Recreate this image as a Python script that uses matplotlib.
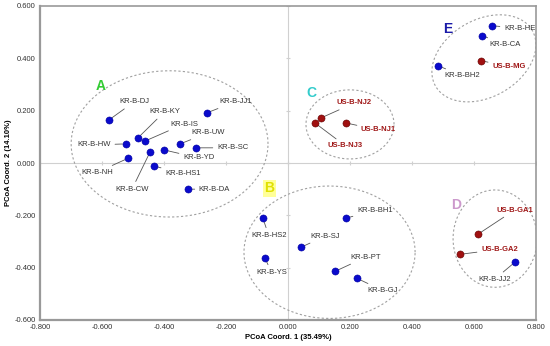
import numpy as np
import matplotlib
matplotlib.use("Agg")
import matplotlib.pyplot as plt

plt.rcParams['font.family'] = ['Liberation Sans', 'DejaVu Sans']

# ---- data ----
kr_names = ["KR-B-DJ", "KR-B-JJ1", "KR-B-KY", "KR-B-IS", "KR-B-HW", "KR-B-UW",
            "KR-B-SC", "KR-B-YD", "KR-B-CW", "KR-B-NH", "KR-B-HS1", "KR-B-DA",
            "KR-B-HS2", "KR-B-YS", "KR-B-SJ", "KR-B-BH1", "KR-B-PT", "KR-B-GJ",
            "KR-B-JJ2", "KR-B-HE", "KR-B-CA", "KR-B-BH2"]
kr_x = [-0.577, -0.261, -0.484, -0.461, -0.523, -0.348, -0.297, -0.400, -0.445,
        -0.516, -0.432, -0.323, -0.081, -0.074, 0.042, 0.187, 0.152, 0.223,
        0.732, 0.658, 0.626, 0.484]
kr_y = [0.165, 0.192, 0.096, 0.084, 0.073, 0.073, 0.058, 0.050, 0.042,
        0.018, -0.012, -0.100, -0.211, -0.364, -0.322, -0.211, -0.414, -0.441,
        -0.379, 0.525, 0.487, 0.372]

us_names = ["US-B-NJ2", "US-B-NJ3", "US-B-NJ1", "US-B-GA1", "US-B-GA2", "US-B-MG"]
us_x = [0.106, 0.087, 0.187, 0.613, 0.555, 0.623]
us_y = [0.172, 0.153, 0.153, -0.272, -0.349, 0.391]

x_ticks = [-0.8, -0.6, -0.4, -0.2, 0.0, 0.2, 0.4, 0.6, 0.8]
y_ticks = [-0.6, -0.4, -0.2, 0.0, 0.2, 0.4, 0.6]
x_label = "PCoA Coord. 1 (35.49%)"
y_label = "PCoA Coord. 2 (14.10%)"

# ---- layout (label offsets in pixels: dx, dy, ha) ----
label_layout = {
    "KR-B-DJ": (10, 18, 'left'), "KR-B-JJ1": (12, 11, 'left'),
    "KR-B-KY": (11, 26, 'left'), "KR-B-IS": (25, 17, 'left'),
    "KR-B-HW": (-15, -1, 'right'), "KR-B-UW": (11, 11, 'left'),
    "KR-B-SC": (21, 0, 'left'), "KR-B-YD": (19, -8, 'left'),
    "KR-B-CW": (-18, -37, 'center'), "KR-B-NH": (-15, -14, 'right'),
    "KR-B-HS1": (11, -7, 'left'), "KR-B-DA": (11, 0, 'left'),
    "KR-B-HS2": (-12, -17, 'left'), "KR-B-YS": (-9, -14, 'left'),
    "KR-B-SJ": (9, 11, 'left'), "KR-B-BH1": (11, 8, 'left'),
    "KR-B-PT": (15, 14, 'left'), "KR-B-GJ": (10, -12, 'left'),
    "KR-B-JJ2": (-4, -17, 'right'), "KR-B-HE": (12, -3, 'left'),
    "KR-B-CA": (7, -9, 'left'), "KR-B-BH2": (6, -10, 'left'),
    "US-B-NJ2": (16, 15, 'left'), "US-B-NJ3": (13, -23, 'left'),
    "US-B-NJ1": (15, -7, 'left'), "US-B-GA1": (18, 24, 'left'),
    "US-B-GA2": (21, 5, 'left'), "US-B-MG": (11, -6, 'left'),
}

# cluster ellipses: (cx, cy, width, height, angle_deg)
ellipses = [(-0.382, 0.073, 0.635, 0.559, 0),
            (0.134, -0.341, 0.552, 0.506, 0),
            (0.200, 0.1475, 0.284, 0.264, 0),
            (0.668, -0.289, 0.271, 0.372, 0),
            (0.632, 0.400, 0.360, 0.295, 30)]

groups = [("A", -0.605, 0.295, '#33cc33', None),
          ("B", -0.060, -0.097, '#e0e000', '#ffff99'),
          ("C", 0.075, 0.266, '#33cccc', None),
          ("D", 0.542, -0.161, '#cc99cc', None),
          ("E", 0.515, 0.513, '#1a1aa8', None)]

W, H, DPI = 550, 346, 100
fig = plt.figure(figsize=(W / DPI, H / DPI), dpi=DPI)
ax = fig.add_axes([40 / W, 1 - 320 / H, 496 / W, 314 / H])
ax.set_xlim(-0.8, 0.8)
ax.set_ylim(-0.6, 0.6)

sx = 496 / 1.6
sy = 314 / 1.2

# zero lines with tick marks
ax.axhline(0, color='#d0d0d0', lw=0.8, zorder=0)
ax.axvline(0, color='#d0d0d0', lw=0.8, zorder=0)
ax.plot(x_ticks, [0] * len(x_ticks), ls='none', marker='|', ms=3, color='#d0d0d0', mew=0.8, zorder=0)
ax.plot([0] * len(y_ticks), y_ticks, ls='none', marker='_', ms=3, color='#d0d0d0', mew=0.8, zorder=0)

# ellipses
t = np.linspace(0, 2 * np.pi, 300)
for cx, cy, w, h, ang in ellipses:
    a = w * sx / 2
    b = h * sy / 2
    th = np.deg2rad(ang)
    u = a * np.cos(t)
    v = b * np.sin(t)
    ur = u * np.cos(th) - v * np.sin(th)
    vr = u * np.sin(th) + v * np.cos(th)
    ax.plot(cx + ur / sx, cy + vr / sy, ls=(0, (2, 2)), color='#a0a0a0', lw=0.8, zorder=1)

# points
ax.scatter(kr_x, kr_y, s=26, color='#0a0acc', edgecolors='#0000a0', linewidths=0.4, zorder=3)
ax.scatter(us_x, us_y, s=26, color='#a01010', edgecolors='#600000', linewidths=0.4, zorder=3)

def label(name, x, y, color, weight):
    dx, dy, ha = label_layout[name]
    ax.annotate(name, xy=(x, y), xytext=(dx, dy), textcoords='offset pixels',
                ha=ha, va='center', fontsize=5.5, color=color, fontweight=weight,
                arrowprops=dict(arrowstyle='-', color='#555555', lw=0.6,
                                shrinkA=1, shrinkB=2.5),
                zorder=2)

for n, x, y in zip(kr_names, kr_x, kr_y):
    label(n, x, y, '#333333', 'normal')
for n, x, y in zip(us_names, us_x, us_y):
    label(n, x, y, '#a01818', 'bold')

for g, gx, gy, col, bg in groups:
    kw = {}
    if bg:
        kw['bbox'] = dict(boxstyle='square,pad=0.1', fc=bg, ec='none')
    ax.text(gx, gy, g, color=col, fontsize=10, fontweight='bold', ha='center', va='center', **kw)

ax.set_xticks(x_ticks)
ax.set_yticks(y_ticks)
ax.set_xticklabels([f"{v:.3f}" for v in x_ticks], fontsize=5.5, color='#333333')
ax.set_yticklabels([f"{v:.3f}" for v in y_ticks], fontsize=5.5, color='#333333')
ax.tick_params(length=0, pad=3)
for s in ax.spines.values():
    s.set_color('#999999')
    s.set_linewidth(1.2)
ax.spines['left'].set_linewidth(1.6)
ax.spines['bottom'].set_linewidth(1.6)
ax.set_xlabel(x_label, fontsize=5.5, fontweight='bold', labelpad=2)
ax.set_ylabel(y_label, fontsize=5.5, fontweight='bold', labelpad=2)

fig.savefig("out.png", dpi=DPI)
